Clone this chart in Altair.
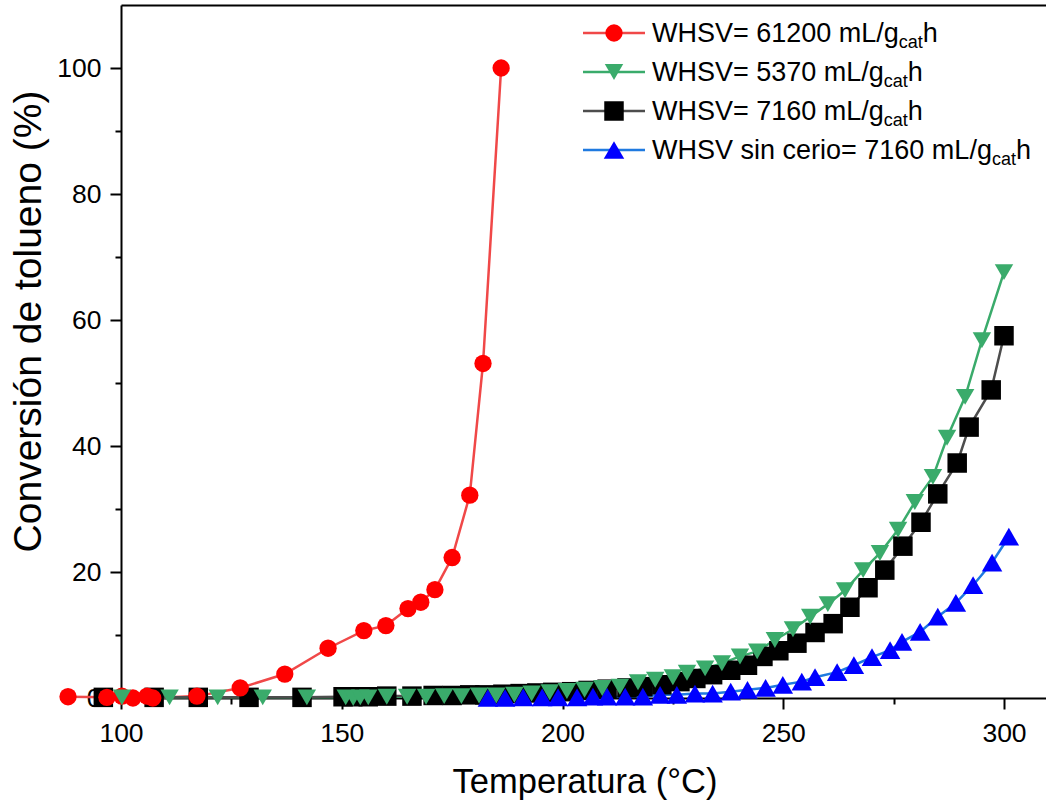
import altair as alt
import pandas as pd

# Toluene conversion (%) vs. reactor temperature (°C) for each run
t_61200 = [88.0, 96.8, 100.2, 102.7, 105.9, 107.2, 117.2, 127.0, 137.1, 146.9, 155.0, 160.0,
           165.0, 167.9, 171.1, 175.0, 179.0, 182.0, 186.1]
c_61200 = [0.2, 0.1, 0.3, 0.0, 0.3, 0.0, 0.3, 1.6, 3.8, 7.9, 10.7, 11.5,
           14.2, 15.2, 17.2, 22.3, 32.2, 53.1, 100.0]

t_5370 = [100.2, 111.0, 121.9, 132.1, 142.1, 150.9, 152.6, 154.2, 156.0, 160.2, 164.8, 169.1,
          173.2, 177.1, 181.1, 185.0, 189.1, 193.0, 197.1, 201.0, 205.0, 209.0, 213.0, 217.1,
          221.0, 225.0, 228.2, 232.3, 236.1, 240.2, 244.1, 248.1, 252.2, 256.1, 260.1, 264.0,
          268.1, 271.9, 276.0, 279.8, 283.9, 287.1, 291.2, 295.0, 300.0]
c_5370 = [0.1, 0.1, 0.1, 0.1, 0.1, 0.1, 0.0, 0.1, 0.1, 0.2, 0.2, 0.2,
          0.3, 0.3, 0.4, 0.4, 0.5, 0.7, 0.9, 1.1, 1.3, 1.6, 1.8, 2.5,
          2.9, 3.3, 4.0, 4.7, 5.5, 6.6, 7.4, 9.2, 10.9, 12.9, 14.9, 17.1,
          20.3, 23.0, 26.7, 31.1, 35.1, 41.3, 47.8, 56.8, 67.6]

t_7160 = [96.0, 107.5, 117.5, 129.0, 141.0, 150.3, 152.5, 156.0, 160.2, 165.9, 170.7, 175.0,
          179.0, 182.4, 186.5, 190.4, 194.2, 197.8, 202.1, 205.8, 210.1, 214.6, 218.2, 222.5,
          226.6, 230.2, 234.0, 238.1, 241.9, 245.4, 249.0, 253.1, 257.2, 261.3, 265.1, 269.2,
          273.0, 277.1, 281.2, 285.0, 289.4, 292.1, 297.1, 300.0]
c_7160 = [0.1, 0.1, 0.1, 0.1, 0.1, 0.2, 0.2, 0.2, 0.3, 0.3, 0.4, 0.4,
          0.5, 0.5, 0.6, 0.7, 0.8, 0.9, 1.0, 1.2, 1.4, 1.6, 1.8, 2.1,
          2.6, 3.1, 3.7, 4.4, 5.2, 6.6, 7.5, 8.7, 10.4, 11.8, 14.4, 17.5,
          20.3, 24.1, 27.9, 32.4, 37.3, 43.0, 48.9, 57.5]

t_sin = [183.1, 187.0, 191.1, 195.4, 199.0, 203.3, 206.9, 210.1, 214.2, 218.2, 222.1, 225.9,
         230.0, 234.0, 238.1, 241.9, 246.0, 249.9, 254.2, 257.2, 262.2, 266.0, 270.1, 274.2,
         276.9, 281.0, 285.0, 289.1, 293.0, 297.3, 301.1]
c_sin = [0.0, 0.0, 0.1, 0.1, 0.1, 0.1, 0.2, 0.2, 0.2, 0.2, 0.5, 0.5,
         0.7, 0.7, 1.0, 1.3, 1.6, 2.1, 2.6, 3.3, 4.1, 5.2, 6.5, 7.6,
         8.9, 10.5, 12.9, 15.1, 17.9, 21.5, 25.6]

series = ["WHSV= 61200", "WHSV= 5370", "WHSV= 7160", "WHSV sin cerio= 7160"]
x_ticks = [100, 125, 150, 175, 200, 225, 250, 275, 300]
y_ticks = [0, 10, 20, 30, 40, 50, 60, 70, 80, 90, 100]

FONT = "Liberation Sans"
line_colors = ["#f04848", "#3aab6b", "#4d4d4d", "#1f7ae0"]
marker_colors = ["#ff0000", "#3aab6b", "#000000", "#0000ff"]
shapes = ["circle", "triangle-down", "square", "triangle-up"]
sizes = [300, 420, 250, 350]
z_order = [1, 3, 0, 2]  # draw black first, green on top

W, H = 925, 693
X_DOM = [100, 100 + W / 4.415]
Y_DOM = [0, 110]

frames = []
for name, ts, cs, z in zip(series, [t_61200, t_5370, t_7160, t_sin],
                           [c_61200, c_5370, c_7160, c_sin], z_order):
    frames.append(pd.DataFrame({"serie": name, "T": ts, "conv": cs, "z": z}))
df = pd.concat(frames, ignore_index=True)

line_scale = alt.Scale(domain=series, range=line_colors)
marker_scale = alt.Scale(domain=series, range=marker_colors)
shape_scale = alt.Scale(domain=series, range=shapes)
size_scale = alt.Scale(domain=series, range=sizes)

x_axis = alt.Axis(
    values=x_ticks, labelExpr="datum.value % 50 === 0 ? datum.label : ''",
    tickSize={"condition": {"test": "datum.value % 50 === 0", "value": 11}, "value": 6},
    labelFlush=False, labelPadding=11,
    title="Temperatura (°C)", titleFontSize=34.5, titleBaseline="alphabetic",
    titleX=W / 2 + 1, titleY=94,
)
y_axis = alt.Axis(
    values=y_ticks, labelExpr="datum.value % 20 === 0 ? datum.label : ''",
    tickSize={"condition": {"test": "datum.value % 20 === 0", "value": 11}, "value": 6},
    labelFlush=False, labelPadding=9,
    title="Conversión de tolueno (%)", titleFontSize=39, titleBaseline="alphabetic",
    titleX=-81, titleY=316, titleAngle=-90,
)

lines = alt.Chart(df).mark_line(strokeWidth=2.5).encode(
    x=alt.X("T:Q", scale=alt.Scale(domain=X_DOM, nice=False, zero=False), axis=x_axis),
    y=alt.Y("conv:Q", scale=alt.Scale(domain=Y_DOM, nice=False), axis=y_axis),
    color=alt.Color("serie:N", scale=line_scale, legend=None),
    order="T:Q",
)

points = alt.Chart(df).mark_point(filled=True, opacity=1, strokeWidth=0).encode(
    x=alt.X("T:Q", scale=alt.Scale(domain=X_DOM, nice=False, zero=False),
            axis=alt.Axis(orient="top", ticks=False, labels=False, title=None)),
    y=alt.Y("conv:Q", scale=alt.Scale(domain=Y_DOM, nice=False), axis=None),
    color=alt.Color("serie:N", scale=marker_scale, legend=None),
    shape=alt.Shape("serie:N", scale=shape_scale, legend=None),
    size=alt.Size("serie:N", scale=size_scale, legend=None),
    order="z:Q",
)

# Legend: line sample + marker, label with subscripted "cat"
ADV = {"W": 944, "H": 722, "S": 667, "V": 667, "=": 584, " ": 278, "m": 833, "L": 556,
       "/": 278, "g": 556, "s": 500, "i": 222, "n": 556, "c": 500, "e": 556, "r": 333,
       "o": 556, "a": 556, "t": 278, "h": 556}


def text_width(s, size):
    return sum(ADV.get(ch, 556) for ch in s) * size / 1000.0


LEG_FS, SUB_FS = 27, 18
row_y = [28 + 39 * i for i in range(len(series))]
main_labels = [s + " mL/g" for s in series]
text_x = 531
leg = pd.DataFrame({
    "serie": series,
    "label": main_labels,
    "sub": ["cat"] * len(series),
    "hh": ["h"] * len(series),
    "x1": 462, "x2": 524, "xm": 493,
    "y": row_y,
    "yt": [y + 9 for y in row_y],
    "ys": [y + 15 for y in row_y],
    "xt": text_x,
    "xs": [text_x + text_width(m, LEG_FS) for m in main_labels],
})
leg["xh"] = leg["xs"] + text_width("cat", SUB_FS)

leg_lines = alt.Chart(leg).mark_rule(strokeWidth=2.5).encode(
    x=alt.X("x1:Q", scale=None, axis=None), x2="x2:Q",
    y=alt.Y("y:Q", scale=None, axis=None),
    color=alt.Color("serie:N", scale=line_scale, legend=None),
)
leg_points = alt.Chart(leg).mark_point(filled=True, opacity=1, strokeWidth=0).encode(
    x=alt.X("xm:Q", scale=None, axis=None),
    y=alt.Y("y:Q", scale=None, axis=None),
    color=alt.Color("serie:N", scale=marker_scale, legend=None),
    shape=alt.Shape("serie:N", scale=shape_scale, legend=None),
    size=alt.Size("serie:N", scale=size_scale, legend=None),
)
leg_text = alt.Chart(leg).mark_text(align="left", baseline="alphabetic", fontSize=LEG_FS,
                                    font=FONT, color="black").encode(
    x=alt.X("xt:Q", scale=None, axis=None), y=alt.Y("yt:Q", scale=None, axis=None),
    text="label:N",
)
leg_sub = alt.Chart(leg).mark_text(align="left", baseline="alphabetic", fontSize=SUB_FS,
                                   font=FONT, color="black").encode(
    x=alt.X("xs:Q", scale=None, axis=None), y=alt.Y("ys:Q", scale=None, axis=None),
    text="sub:N",
)
leg_h = alt.Chart(leg).mark_text(align="left", baseline="alphabetic", fontSize=LEG_FS,
                                 font=FONT, color="black").encode(
    x=alt.X("xh:Q", scale=None, axis=None), y=alt.Y("yt:Q", scale=None, axis=None),
    text="hh:N",
)

chart = alt.layer(lines, points, leg_lines, leg_points, leg_text, leg_sub, leg_h).resolve_scale(
    x="independent", y="independent", color="independent", shape="independent", size="independent"
).properties(
    width=W, height=H, autosize="none",
    padding={"left": 121, "top": 5, "right": 0, "bottom": 105},
    background="white",
).configure_view(stroke=None).configure_axis(
    domainColor="black", domainWidth=2, tickColor="black", tickWidth=2,
    labelFont=FONT, labelFontSize=26.5, labelColor="black",
    titleFont=FONT, titleFontWeight="normal", titleColor="black", grid=False,
)

chart.save("out.html", embed_options={"renderer": "svg", "actions": False})
